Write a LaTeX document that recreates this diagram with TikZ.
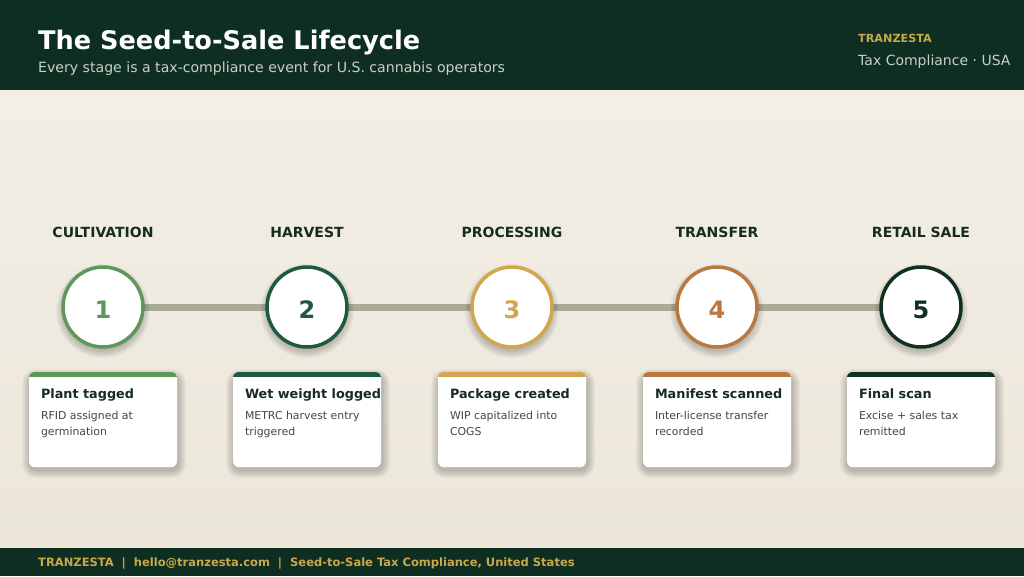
\documentclass[tikz,border=0pt]{standalone}
\usepackage{fontspec}
\setmainfont{DejaVu Sans}
\definecolor{hdr}{RGB}{15,46,34}
\definecolor{bgA}{RGB}{243,239,229}
\definecolor{bgB}{RGB}{236,230,218}
\definecolor{gold}{RGB}{201,168,76}
\definecolor{subt}{RGB}{200,208,200}
\definecolor{rail}{RGB}{170,170,152}
\definecolor{cA}{RGB}{94,150,92}
\definecolor{cB}{RGB}{30,90,62}
\definecolor{cC}{RGB}{210,166,76}
\definecolor{cD}{RGB}{184,120,62}
\definecolor{cE}{RGB}{18,48,32}
\definecolor{ink}{RGB}{22,44,32}
\definecolor{desc}{RGB}{70,70,66}
\tikzset{
  stagelbl/.style={font=\fontsize{14}{16}\selectfont\bfseries, text=ink, anchor=base},
  ring/.style={circle, draw=#1, line width=3.5pt, fill=white, minimum size=80pt, inner sep=0pt},
  numtxt/.style={text=#1, font=\fontsize{24}{28}\selectfont\bfseries, inner sep=0pt},
  card/.style={rectangle, rounded corners=6pt, fill=white, minimum width=148pt, minimum height=95pt,
     inner sep=0pt, anchor=north},
  softshadow/.style={fill=black, opacity=0.026},
  cardtitle/.style={font=\fontsize{12.8}{15}\selectfont\bfseries, text=ink, anchor=base west, inner sep=0pt},
  carddesc/.style={font=\fontsize{10.9}{16}\selectfont, text=desc, anchor=north west, align=left, inner sep=0pt},
}
\begin{document}
\begin{tikzpicture}[x=1pt,y=-1pt]
\useasboundingbox (0,0) rectangle (1024,576);
\shade[top color=bgA, bottom color=bgB] (0,90) rectangle (1024,548);
\fill[hdr] (0,0) rectangle (1024,90);
\fill[hdr] (0,548) rectangle (1024,576);
\node[anchor=base west, inner sep=0pt, text=white, font=\fontsize{25.6}{30}\selectfont\bfseries] (title) at (38,49) {The Seed-to-Sale Lifecycle};
\node[anchor=base west, inner sep=0pt, text=subt, font=\fontsize{14.1}{17}\selectfont] (subtitle) at (38,72) {Every stage is a tax-compliance event for U.S. cannabis operators};
\node[anchor=base west, inner sep=0pt, text=gold, font=\fontsize{11.2}{13}\selectfont\bfseries] (brand) at (858,42) {TRANZESTA};
\node[anchor=base west, inner sep=0pt, text=subt, font=\fontsize{14}{17}\selectfont] (brandsub) at (858,65) {Tax Compliance · USA};
\node[anchor=base west, inner sep=0pt, text=gold, font=\fontsize{11.5}{14}\selectfont\bfseries] (footer) at (38,566) {TRANZESTA\hspace{8pt}|\hspace{8pt}hello@tranzesta.com\hspace{8pt}|\hspace{8pt}Seed-to-Sale Tax Compliance, United States};
% rail
\coordinate (railL) at (103,307);
\coordinate (railR) at (921,307);
\draw[rail, line width=7pt] (railL) -- (railR);
% stages
\foreach \i/\x/\col/\stage/\ttl/\da/\db in {
  1/103/cA/CULTIVATION/Plant tagged/RFID assigned at/germination,
  2/307/cB/HARVEST/Wet weight logged/METRC harvest entry/triggered,
  3/512/cC/PROCESSING/Package created/WIP capitalized into/COGS,
  4/717/cD/TRANSFER/Manifest scanned/Inter-license transfer/recorded,
  5/921/cE/RETAIL SALE/Final scan/Excise + sales tax/remitted}{
  \node[stagelbl] (lbl\i) at (\x,237) {\stage};
  \foreach \k in {1,...,8}{
    \fill[softshadow] (\x,311) circle ({39+\k});
    \fill[softshadow, rounded corners={6+\k}] ({\x-74-\k+1},{372+5-\k}) rectangle ({\x+74+\k+1},{467+3+\k});
  }
  \node[ring=\col] (c\i) at (\x,307) {};
  \node[numtxt=\col] (n\i) at (\x,310) {\i};
  \node[card] (card\i) at (\x,372) {};
  \begin{scope}
    \clip[rounded corners=6pt] (card\i.north west) rectangle (card\i.south east);
    \fill[\col] (card\i.north west) rectangle ([yshift=-5pt]card\i.north east);
  \end{scope}
  \node[cardtitle] (t\i) at ([xshift=12pt,yshift=-26pt]card\i.north west) {\ttl};
  \node[carddesc] (d\i) at ([xshift=12pt,yshift=-39pt]card\i.north west) {\da\\\db};
}
\end{tikzpicture}
\end{document}
